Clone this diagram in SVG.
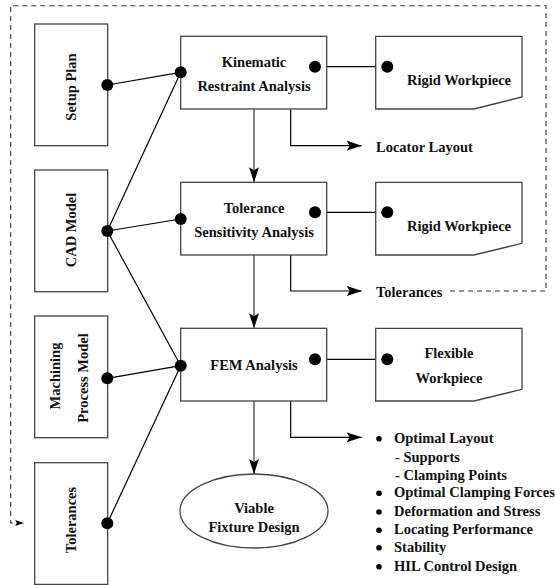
<svg xmlns="http://www.w3.org/2000/svg" width="555" height="585" viewBox="0 0 555 585" font-family="Liberation Serif, Times New Roman, serif" font-weight="bold">
<defs>
<marker id="ah" markerWidth="16" markerHeight="12" refX="15" refY="6" orient="auto" markerUnits="userSpaceOnUse">
<path d="M0,1 L15,6 L0,11 L3,6 Z" fill="#000"/>
</marker>
<marker id="ahs" markerWidth="10" markerHeight="8" refX="9" refY="4" orient="auto" markerUnits="userSpaceOnUse">
<path d="M0,1 L9,4 L0,7 L2,4 Z" fill="#000"/>
</marker>
</defs>
<style>
.box{fill:#fff;stroke:#444;stroke-width:1.3}
.t{font-size:14.5px;fill:#111}
.c{text-anchor:middle}
.ln{stroke:#000;stroke-width:1.2;fill:none}
.fl{stroke:#444;stroke-width:1.3;fill:none}
.dash{stroke:#333;stroke-width:1.1;fill:none;stroke-dasharray:5,4}
.dot{fill:#000}
</style>
<rect width="555" height="585" fill="#fff"/>

<g id="connectors">
<path class="dash" d="M450,291 H546 V5.7 H10.7 V523 H24" marker-end="url(#ahs)"/>
<line class="ln" x1="107.3" y1="85" x2="180.7" y2="72.3"/>
<line class="ln" x1="107.3" y1="231" x2="180.7" y2="72.3"/>
<line class="ln" x1="107.3" y1="231" x2="180.7" y2="219"/>
<line class="ln" x1="107.3" y1="231" x2="180.7" y2="365.7"/>
<line class="ln" x1="107.3" y1="378.3" x2="180.7" y2="365.7"/>
<line class="ln" x1="107.3" y1="523.3" x2="180.7" y2="365.7"/>
<line class="ln" x1="315" y1="66.7" x2="387.3" y2="66.7"/>
<line class="ln" x1="315" y1="212.3" x2="387.3" y2="212.3"/>
<line class="ln" x1="315" y1="359.3" x2="387.3" y2="359.3"/>
<line class="fl" x1="254" y1="109" x2="254" y2="182.3" marker-end="url(#ah)"/>
<line class="fl" x1="254" y1="255" x2="254" y2="328.3" marker-end="url(#ah)"/>
<line class="fl" x1="254" y1="401" x2="254" y2="474" marker-end="url(#ah)"/>
<path class="ln" d="M290.7,109 V145.7 H361.7" marker-end="url(#ah)"/>
<path class="ln" d="M290.7,255 V291 H361.7" marker-end="url(#ah)"/>
<path class="ln" d="M290.7,401 V437.3 H361.7" marker-end="url(#ah)"/>
</g>

<g id="setup-plan">
<rect class="box" x="34.7" y="24" width="73" height="121.7"/>
<text class="t c" transform="translate(76,87) rotate(-90)">Setup Plan</text>
</g>
<g id="cad-model">
<rect class="box" x="34.7" y="170" width="73" height="121.7"/>
<text class="t c" transform="translate(76,230) rotate(-90)">CAD Model</text>
</g>
<g id="machining-process-model">
<rect class="box" x="34.7" y="316" width="73" height="121.7"/>
<text class="t c" transform="translate(60,376) rotate(-90)">Machining</text>
<text class="t c" transform="translate(88,378) rotate(-90)">Process Model</text>
</g>
<g id="tolerances-input">
<rect class="box" x="34.7" y="462.7" width="73" height="121.7"/>
<text class="t c" transform="translate(76,520) rotate(-90)">Tolerances</text>
</g>

<g id="kinematic">
<rect class="box" x="180.7" y="36.3" width="146" height="72.7"/>
<text class="t c" x="254" y="66.5">Kinematic</text>
<text class="t c" x="254" y="91">Restraint Analysis</text>
</g>
<g id="tolerance-sensitivity">
<rect class="box" x="180.7" y="182.3" width="146" height="72.7"/>
<text class="t c" x="254" y="213.3">Tolerance</text>
<text class="t c" x="254" y="236.7">Sensitivity Analysis</text>
</g>
<g id="fem">
<rect class="box" x="180.7" y="328.3" width="146" height="72.7"/>
<text class="t c" x="254" y="370">FEM Analysis</text>
</g>

<g id="rigid-workpiece-1">
<path class="box" d="M375.7,36.3 H522 V97 L474,109 H375.7 Z"/>
<text class="t c" x="459" y="85">Rigid Workpiece</text>
</g>
<g id="rigid-workpiece-2">
<path class="box" d="M375.7,182.3 H522 V243.3 L474,255 H375.7 Z"/>
<text class="t c" x="459" y="231">Rigid Workpiece</text>
</g>
<g id="flexible-workpiece">
<path class="box" d="M375.7,328.3 H522 V389.3 L474,401 H375.7 Z"/>
<text class="t c" x="449" y="358">Flexible</text>
<text class="t c" x="449" y="382.7">Workpiece</text>
</g>

<g id="viable-fixture-design">
<ellipse class="box" cx="254" cy="511" rx="74" ry="37"/>
<text class="t c" x="254" y="513">Viable</text>
<text class="t c" x="254" y="532">Fixture Design</text>
</g>

<g id="locator-layout"><text class="t" x="376" y="151.7">Locator Layout</text></g>
<g id="tolerances-output"><text class="t" x="376" y="296.7">Tolerances</text></g>

<g id="results">
<circle class="dot" cx="379" cy="438.7" r="2.8"/>
<circle class="dot" cx="379" cy="493.3" r="2.8"/>
<circle class="dot" cx="379" cy="512" r="2.8"/>
<circle class="dot" cx="379" cy="530.3" r="2.8"/>
<circle class="dot" cx="379" cy="547.7" r="2.8"/>
<circle class="dot" cx="379" cy="566.7" r="2.8"/>
<text class="t" x="394" y="442.7">Optimal Layout</text>
<text class="t" x="395" y="461.7">-  Supports</text>
<text class="t" x="395" y="480">-  Clamping Points</text>
<text class="t" x="394" y="497.3">Optimal Clamping Forces</text>
<text class="t" x="394" y="516">Deformation and Stress</text>
<text class="t" x="394" y="534.3">Locating Performance</text>
<text class="t" x="394" y="551.7">Stability</text>
<text class="t" x="394" y="570.7">HIL Control Design</text>
</g>

<g id="dots">
<circle class="dot" cx="107.3" cy="85" r="6"/>
<circle class="dot" cx="107.3" cy="231" r="6"/>
<circle class="dot" cx="107.3" cy="378.3" r="6"/>
<circle class="dot" cx="107.3" cy="523.3" r="6"/>
<circle class="dot" cx="180.7" cy="72.3" r="6"/>
<circle class="dot" cx="180.7" cy="219" r="6"/>
<circle class="dot" cx="180.7" cy="365.7" r="6"/>
<circle class="dot" cx="315" cy="66.7" r="6"/>
<circle class="dot" cx="315" cy="212.3" r="6"/>
<circle class="dot" cx="315" cy="359.3" r="6"/>
<circle class="dot" cx="387.3" cy="66.7" r="6"/>
<circle class="dot" cx="387.3" cy="212.3" r="6"/>
<circle class="dot" cx="387.3" cy="359.3" r="6"/>
</g>
</svg>
